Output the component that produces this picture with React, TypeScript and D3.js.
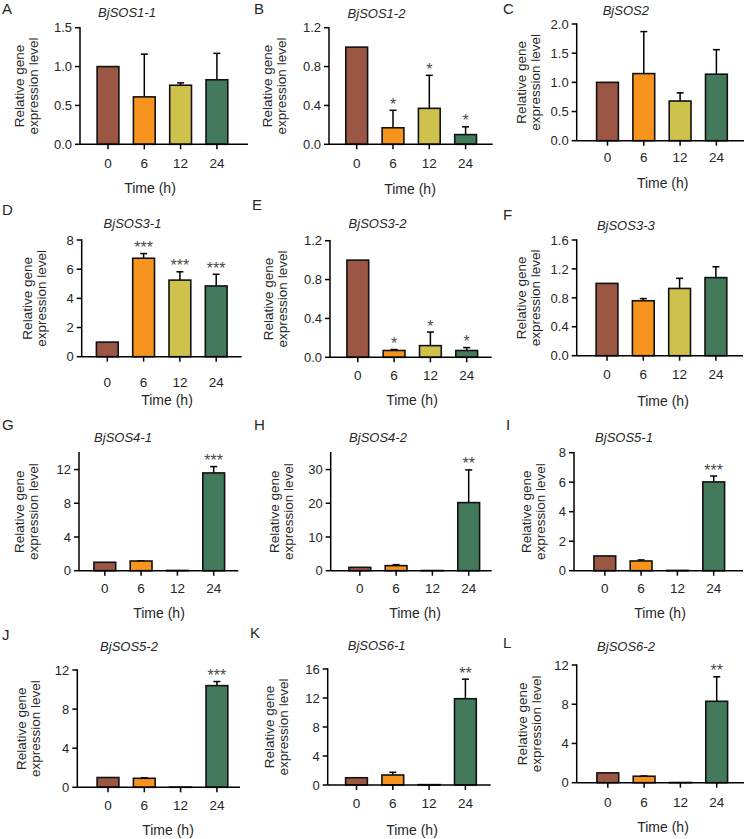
import React from 'react';
import * as d3 from 'd3';

const panelLetters = ['A', 'B', 'C', 'D', 'E', 'F', 'G', 'H', 'I', 'J', 'K', 'L'];
const geneNames = ['BjSOS1-1', 'BjSOS1-2', 'BjSOS2', 'BjSOS3-1', 'BjSOS3-2', 'BjSOS3-3', 'BjSOS4-1', 'BjSOS4-2', 'BjSOS5-1', 'BjSOS5-2', 'BjSOS6-1', 'BjSOS6-2'];
const timePoints = ['0', '6', '12', '24'];
const barColors = ['#9b5644', '#f7941d', '#cfc24c', '#437a5c'];
const yMaxValues = [1.5, 1.2, 2.0, 8, 1.2, 1.6, 14, 35, 8, 12, 16, 12];
const yTickValues = [
  [0, 0.5, 1.0, 1.5], [0, 0.4, 0.8, 1.2], [0, 0.5, 1.0, 1.5, 2.0],
  [0, 2, 4, 6, 8], [0, 0.4, 0.8, 1.2], [0, 0.4, 0.8, 1.2, 1.6],
  [0, 4, 8, 12], [0, 10, 20, 30], [0, 2, 4, 6, 8],
  [0, 4, 8, 12], [0, 4, 8, 12, 16], [0, 4, 8, 12],
];
const yTickDecimals = [1, 1, 1, 0, 1, 1, 0, 0, 0, 0, 0, 0];
const meanValues = [
  [1.0, 0.61, 0.76, 0.83], [1.0, 0.17, 0.37, 0.10], [1.0, 1.15, 0.68, 1.14],
  [1.0, 6.75, 5.25, 4.85], [1.0, 0.07, 0.12, 0.07], [1.0, 0.76, 0.93, 1.08],
  [1.0, 1.15, 0.03, 11.6], [1.0, 1.5, 0.05, 20.2], [1.0, 0.66, 0.02, 6.02],
  [1.0, 0.92, 0.02, 10.4], [1.0, 1.38, 0.05, 11.9], [1.0, 0.66, 0.02, 8.3],
];
const errorValues = [
  [0, 0.55, 0.03, 0.34], [0, 0.18, 0.34, 0.08], [0, 0.72, 0.14, 0.42],
  [0, 0.32, 0.57, 0.8], [0, 0.01, 0.14, 0.03], [0, 0.03, 0.14, 0.15],
  [0, 0.02, 0, 0.75], [0, 0.3, 0, 9.7], [0, 0.07, 0, 0.4],
  [0, 0.06, 0, 0.42], [0, 0.37, 0, 2.7], [0, 0.03, 0, 2.5],
];
const sigMarks = [
  ['', '', '', ''], ['', '*', '*', '*'], ['', '', '', ''],
  ['', '***', '***', '***'], ['', '*', '*', '*'], ['', '', '', ''],
  ['', '', '', '***'], ['', '', '', '**'], ['', '', '', '***'],
  ['', '', '', '***'], ['', '', '', '**'], ['', '', '', '**'],
];

type Layout = {
  axisX: number; axisRight: number; firstBar: number; yTop: number; yBottom: number;
  titleX: number; titleY: number; letterX: number; letterY: number;
  tickY: number; timeX: number; timeY: number; labelX: number;
};
const L = (a: number[]): Layout => ({
  axisX: a[0], axisRight: a[1], firstBar: a[2], yTop: a[3], yBottom: a[4],
  titleX: a[5], titleY: a[6], letterX: a[7], letterY: a[8], tickY: a[9],
  timeX: a[10], timeY: a[11], labelX: a[12],
});
const layouts: Layout[] = [
  L([80, 248, 108, 27.7, 144.3, 127, 12.3, 2, 8.5, 163, 150, 188, 19]),
  L([329, 492.7, 356.7, 27.7, 144.3, 376.5, 13.3, 254, 8.5, 163, 410, 189, 267.5]),
  L([576.7, 744, 607.5, 24, 140.7, 625.8, 10, 503, 8.5, 157, 662.7, 183, 521]),
  L([81.7, 241.7, 107.3, 240, 356.7, 132.5, 223, 2, 210, 381.7, 167, 400, 27.5]),
  L([330, 491.7, 357.8, 240.7, 357.3, 377.5, 223, 252, 205, 375, 412, 400, 268]),
  L([576.7, 743, 607, 240, 355.7, 625.8, 225, 503, 215, 374, 663, 401, 521]),
  L([79, 238.3, 104.8, 452.7, 570.7, 123, 437.3, 2, 425, 588, 159, 613, 19]),
  L([330.7, 491.7, 359.8, 452.7, 570.7, 378, 437.3, 254, 425, 588, 415, 613, 274]),
  L([574, 743, 604.8, 452.7, 570.7, 624, 437, 506, 425, 588, 660, 613, 526.7]),
  L([77.3, 240, 108, 670, 787.3, 129, 646.7, 2, 635, 805, 168, 830, 21]),
  L([327.7, 490.7, 356.5, 669, 785, 376.7, 645, 250, 633, 803, 412, 830, 269]),
  L([576.7, 744, 607.8, 665, 782.7, 626, 646.7, 503, 643, 801.7, 663, 826.7, 522]),
];

const BAR_STEP = 36.3;
const FONT = 'Liberation Sans, Arial, Helvetica, sans-serif';
const TEXT = '#262626';

function Panel({ idx }: { idx: number }) {
  const lay = layouts[idx];
  const y = d3.scaleLinear().domain([0, yMaxValues[idx]]).range([lay.yBottom, lay.yTop]);
  const x = d3.scaleBand<string>()
    .domain(timePoints)
    .range([lay.firstBar - BAR_STEP / 2, lay.firstBar + BAR_STEP * 3.5])
    .paddingInner(0.4)
    .paddingOuter(0.2);
  const bw = x.bandwidth();
  const fmt = d3.format(`.${yTickDecimals[idx]}f`);
  const midY = (lay.yTop + lay.yBottom) / 2;
  return (
    <g>
      <text x={lay.letterX} y={lay.letterY + 5.4} fontSize={15} fontFamily={FONT} fill={TEXT}>
        {panelLetters[idx]}
      </text>
      <text x={lay.titleX} y={lay.titleY + 4.6} fontSize={13} fontStyle="italic" fontFamily={FONT}
        textAnchor="middle" fill={TEXT}>
        {geneNames[idx]}
      </text>
      <g transform={`translate(${lay.labelX},${midY}) rotate(-90)`} fontFamily={FONT} fontSize={13.5} fill={TEXT}>
        <text x={0} y={4.6} textAnchor="middle">Relative gene</text>
        <text x={0} y={18.8} textAnchor="middle">expression level</text>
      </g>
      {timePoints.map((t, i) => {
        const v = meanValues[idx][i];
        const e = errorValues[idx][i];
        const bx = x(t) as number;
        const cx = bx + bw / 2;
        const top = y(v);
        const errTop = y(v + e);
        return (
          <g key={t}>
            {e > 0 && (
              <g stroke="#000" strokeWidth={1.5}>
                <line x1={cx} x2={cx} y1={top} y2={errTop} />
                <line x1={cx - 3.5} x2={cx + 3.5} y1={errTop} y2={errTop} />
              </g>
            )}
            <rect x={bx} y={top} width={bw} height={lay.yBottom - top}
              fill={barColors[i]} stroke="#111" strokeWidth={1.6} />
            {sigMarks[idx][i] && (
              <text x={cx} y={errTop - 0.5} textAnchor="middle" fontSize={16}
                fontFamily={FONT} fill="#4a4a4a">
                {sigMarks[idx][i]}
              </text>
            )}
          </g>
        );
      })}
      <g stroke="#000" strokeWidth={1.5}>
        <line x1={lay.axisX} x2={lay.axisX} y1={lay.yTop - 0.75} y2={lay.yBottom} />
        <line x1={lay.axisX} x2={lay.axisRight} y1={lay.yBottom} y2={lay.yBottom} />
        {yTickValues[idx].map((t) => (
          <line key={t} x1={lay.axisX - 5} x2={lay.axisX} y1={y(t)} y2={y(t)} />
        ))}
        {timePoints.map((t) => {
          const cx = (x(t) as number) + bw / 2;
          return <line key={t} x1={cx} x2={cx} y1={lay.yBottom} y2={lay.yBottom + 5} />;
        })}
      </g>
      {yTickValues[idx].map((t) => (
        <text key={t} x={lay.axisX - 8} y={y(t)} dy="0.36em" textAnchor="end"
          fontSize={13} fontFamily={FONT} fill={TEXT}>
          {fmt(t)}
        </text>
      ))}
      {timePoints.map((t) => {
        const cx = (x(t) as number) + bw / 2;
        return (
          <text key={t} x={cx} y={lay.tickY} dy="0.36em" textAnchor="middle"
            fontSize={13.5} fontFamily={FONT} fill={TEXT}>
            {t}
          </text>
        );
      })}
      <text x={lay.timeX} y={lay.timeY} dy="0.36em" textAnchor="middle" fontSize={14}
        fontFamily={FONT} fill={TEXT}>
        Time (h)
      </text>
    </g>
  );
}

export default function App() {
  return (
    <svg width={745} height={839} viewBox="0 0 745 839"
      style={{ position: 'absolute', left: 0, top: 0, background: '#fff' }}>
      <rect width={745} height={839} fill="#fff" />
      {panelLetters.map((_, i) => (
        <Panel key={i} idx={i} />
      ))}
    </svg>
  );
}
